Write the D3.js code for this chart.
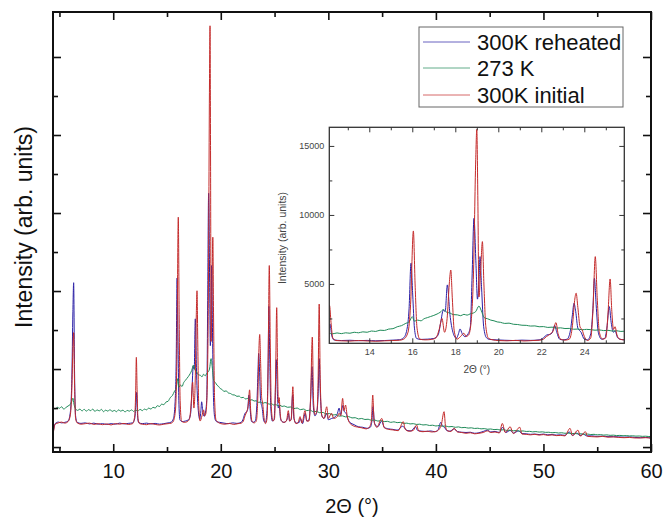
<!DOCTYPE html>
<html>
<head>
<meta charset="utf-8">
<script src="https://cdn.jsdelivr.net/npm/d3@7"></script>
<style>
  body { margin: 0; background: #fff; }
  text { font-family: "Liberation Sans", Arial, sans-serif; }
</style>
</head>
<body>
<div id="chart"></div>
<script>
// Series: [2theta, intensity]
var reheated300K = [
  [4.4,500],[4.6,900],[4.9,960],[5.2,930],[5.5,950],[5.8,1000],[6.0,1300],[6.15,2600],[6.25,5200],[6.32,6320],
  [6.4,3000],[6.5,1200],[6.65,950],[7.0,910],[7.4,930],[7.8,890],[8.2,920],[8.6,880],[9.0,900],[9.4,870],
  [9.8,900],[10.2,880],[10.6,920],[11.0,890],[11.4,910],[11.8,930],[12.0,1100],[12.1,1600],[12.17,2100],[12.25,1300],
  [12.35,950],[12.7,900],[13.1,920],[13.5,890],[13.9,910],[14.3,880],[14.7,900],[15.1,930],[15.4,960],[15.6,1100],
  [15.75,1700],[15.85,3200],[15.94,6500],[16.02,4200],[16.1,1800],[16.2,1050],[16.4,980],[16.7,1000],[17.0,1050],[17.2,1300],
  [17.32,2200],[17.44,3100],[17.53,3000],[17.63,4930],[17.75,2800],[17.89,1500],[18.05,1065],[18.15,1400],[18.22,1740],[18.32,1400],
  [18.45,1180],[18.6,1400],[18.7,1900],[18.78,5500],[18.87,9760],[18.96,6500],[19.03,3900],[19.1,5200],[19.15,6980],[19.22,4800],
  [19.32,1900],[19.45,1100],[19.6,980],[19.9,950],[20.3,920],[20.7,900],[21.1,930],[21.5,910],[21.9,950],[22.1,1100],
  [22.25,1300],[22.4,1350],[22.5,1450],[22.62,2000],[22.72,1500],[22.85,1000],[23.0,950],[23.2,1000],[23.35,1600],[23.45,2800],
  [23.52,3600],[23.6,3000],[23.7,1800],[23.85,1500],[24.0,1000],[24.15,950],[24.3,1400],[24.4,3200],[24.47,5410],[24.55,3500],
  [24.65,1500],[24.8,1000],[24.95,1050],[25.05,1800],[25.16,3360],[25.25,2200],[25.35,1500],[25.43,1600],[25.55,1100],[25.7,980],
  [25.9,950],[26.2,1100],[26.3,1300],[26.4,1000],[26.55,1100],[26.68,2010],[26.8,1100],[27.0,920],[27.3,950],[27.4,1100],
  [27.6,900],[27.85,1300],[28.0,1000],[28.2,1050],[28.35,1800],[28.48,3090],[28.6,1600],[28.75,1200],[28.9,1300],[29.05,2000],
  [29.15,3400],[29.25,2100],[29.4,1200],[29.6,1100],[29.85,1300],[30.0,1050],[30.3,1100],[30.6,1150],[30.85,1300],[31.0,1500],
  [31.15,1250],[31.35,1600],[31.5,1350],[31.65,1300],[31.8,1100],[32.0,950],[32.4,860],[32.8,780],[33.2,760],[33.6,720],
  [33.9,760],[34.05,1000],[34.15,1550],[34.3,900],[34.6,780],[34.95,1000],[35.2,760],[35.6,700],[36.0,680],[36.4,650],
  [36.9,800],[37.05,760],[37.3,640],[37.7,620],[38.1,780],[38.3,640],[38.7,610],[39.1,600],[39.5,620],[39.9,590],
  [40.2,660],[40.45,950],[40.6,820],[40.8,760],[41.0,640],[41.3,610],[41.7,700],[42.0,600],[42.4,570],[42.8,560],
  [43.2,570],[43.6,530],[44.0,550],[44.4,600],[44.8,650],[45.1,580],[45.5,600],[45.9,560],[46.2,760],[46.5,560],
  [46.9,640],[47.2,540],[47.7,620],[48.0,520],[48.4,510],[48.8,490],[49.2,500],[49.6,480],[50.0,500],[50.4,470],
  [50.8,480],[51.2,460],[51.6,470],[52.0,450],[52.4,580],[52.7,450],[53.1,540],[53.4,440],[53.7,500],[54.0,430],
  [54.5,430],[55.0,410],[55.5,420],[56.0,400],[56.5,400],[57.0,390],[57.5,380],[58.0,390],[58.5,370],[59.0,360],
  [59.5,370],[60.0,350]
];

var k273 = [
  [4.4,1540],[4.6,1470],[4.8,1530],[5.0,1490],[5.2,1550],[5.4,1460],[5.6,1520],[5.8,1580],[6.0,1640],[6.15,1760],
  [6.25,1880],[6.35,1650],[6.5,1470],[6.7,1410],[6.9,1460],[7.1,1390],[7.3,1450],[7.5,1380],[7.7,1440],[7.9,1400],
  [8.1,1460],[8.3,1370],[8.5,1430],[8.7,1390],[8.9,1450],[9.1,1360],[9.3,1420],[9.5,1380],[9.7,1440],[9.9,1370],
  [10.1,1410],[10.3,1360],[10.5,1430],[10.7,1380],[10.9,1420],[11.1,1350],[11.3,1410],[11.5,1380],[11.7,1430],[11.9,1370],
  [12.1,1420],[12.3,1390],[12.5,1450],[12.7,1400],[12.9,1460],[13.1,1430],[13.3,1500],[13.5,1460],[13.7,1530],[13.9,1500],
  [14.1,1590],[14.3,1560],[14.5,1650],[14.7,1630],[14.9,1730],[15.1,1760],[15.3,1900],[15.5,1980],[15.7,2150],[15.85,2250],
  [16.0,2630],[16.1,2300],[16.25,2380],[16.4,2330],[16.55,2480],[16.7,2560],[16.85,2640],[17.0,2720],[17.15,2820],[17.3,2950],
  [17.45,3150],[17.6,2950],[17.75,2900],[17.9,2780],[18.1,2760],[18.25,2700],[18.4,2800],[18.55,2740],[18.7,2840],[18.85,2900],
  [18.95,3000],[19.1,3400],[19.2,3100],[19.35,2550],[19.5,2480],[19.65,2380],[19.8,2330],[19.95,2250],[20.1,2220],[20.3,2140],
  [20.5,2160],[20.7,2080],[20.9,2060],[21.1,2010],[21.3,2000],[21.5,1950],[21.7,1960],[21.9,1900],[22.1,1910],[22.3,1850],
  [22.5,1870],[22.7,1800],[22.9,1820],[23.1,1770],[23.3,1780],[23.5,1720],[23.7,1730],[23.9,1680],[24.1,1710],[24.3,1690],
  [24.5,1650],[24.7,1670],[24.9,1620],[25.1,1640],[25.3,1590],[25.5,1610],[25.7,1560],[25.9,1580],[26.2,1530],[26.5,1540],
  [26.8,1480],[27.1,1500],[27.4,1440],[27.7,1460],[28.0,1400],[28.3,1420],[28.6,1360],[28.9,1370],[29.2,1320],[29.5,1330],
  [29.8,1270],[30.1,1290],[30.4,1230],[30.7,1250],[31.0,1190],[31.3,1200],[31.6,1160],[31.9,1170],[32.2,1120],[32.5,1130],
  [32.8,1080],[33.1,1100],[33.4,1060],[33.7,1070],[34.0,1030],[34.3,1040],[34.6,1000],[34.9,1010],[35.2,980],[35.5,990],
  [35.8,950],[36.1,970],[36.4,940],[36.7,950],[37.0,910],[37.3,920],[37.6,890],[37.9,900],[38.2,870],[38.5,880],
  [38.8,850],[39.1,860],[39.4,830],[39.7,840],[40.0,810],[40.3,830],[40.6,800],[40.9,810],[41.2,780],[41.5,790],
  [41.8,760],[42.1,775],[42.4,745],[42.7,755],[43.0,730],[43.3,740],[43.6,715],[43.9,725],[44.2,700],[44.5,710],
  [44.8,685],[45.1,695],[45.4,670],[45.7,680],[46.0,655],[46.3,665],[46.6,640],[46.9,650],[47.2,625],[47.5,635],
  [47.8,610],[48.1,620],[48.4,600],[48.7,605],[49.0,585],[49.3,595],[49.6,575],[49.9,585],[50.2,565],[50.5,570],
  [50.8,550],[51.1,560],[51.4,540],[51.7,550],[52.0,530],[52.3,535],[52.6,515],[52.9,525],[53.2,505],[53.5,510],
  [53.8,495],[54.1,500],[54.4,480],[54.7,490],[55.0,470],[55.3,478],[55.6,460],[55.9,468],[56.2,450],[56.5,458],
  [56.8,442],[57.1,448],[57.4,435],[57.7,440],[58.0,428],[58.3,432],[58.6,420],[58.9,425],[59.2,412],[59.5,418],
  [59.8,405],[60.0,408]
];

var initial300K = [
  [4.4,450],[4.6,880],[4.9,930],[5.2,960],[5.5,920],[5.8,980],[6.0,1200],[6.15,2200],[6.25,3800],[6.32,4400],
  [6.4,2500],[6.5,1100],[6.65,930],[7.0,880],[7.4,900],[7.8,920],[8.2,870],[8.6,900],[9.0,860],[9.4,890],
  [9.8,850],[10.2,900],[10.6,880],[11.0,910],[11.4,870],[11.8,900],[12.0,1200],[12.08,2000],[12.15,3450],[12.22,2200],
  [12.3,1100],[12.45,900],[12.7,880],[13.1,860],[13.5,900],[13.9,870],[14.3,850],[14.7,880],[15.1,900],[15.4,920],
  [15.6,1000],[15.8,1500],[15.92,3500],[16.05,8840],[16.13,5000],[16.22,1800],[16.35,1000],[16.6,950],[16.9,980],[17.1,1100],
  [17.25,1700],[17.38,2500],[17.5,1500],[17.62,2500],[17.72,5000],[17.79,6010],[17.86,4000],[17.95,1600],[18.08,1000],[18.25,1200],
  [18.4,1430],[18.5,1200],[18.62,1300],[18.75,2500],[18.85,6000],[18.95,14000],[19.0,16200],[19.05,11000],[19.1,4060],[19.18,6000],
  [19.26,8070],[19.33,5000],[19.42,1900],[19.55,1050],[19.75,950],[20.0,900],[20.4,880],[20.8,910],[21.2,870],[21.6,900],
  [21.9,920],[22.1,1000],[22.25,1200],[22.4,1350],[22.55,1600],[22.68,2200],[22.78,1400],[22.9,1000],[23.1,930],[23.3,1000],
  [23.45,2000],[23.55,3800],[23.62,4330],[23.7,3300],[23.8,1900],[23.9,1670],[24.0,1200],[24.15,900],[24.3,1100],[24.4,3000],
  [24.51,6980],[24.6,4000],[24.7,1500],[24.85,1000],[25.0,1100],[25.1,2800],[25.2,5360],[25.28,3000],[25.36,1700],[25.43,1900],
  [25.52,1300],[25.65,1000],[25.85,950],[26.1,1000],[26.28,1400],[26.4,1000],[26.55,1050],[26.7,2320],[26.82,1100],[27.0,900],
  [27.2,950],[27.37,1170],[27.55,920],[27.83,1400],[28.0,1000],[28.2,1000],[28.35,1900],[28.51,4230],[28.62,1800],[28.75,1250],
  [28.95,1400],[29.05,2600],[29.15,5500],[29.25,2500],[29.4,1200],[29.6,1100],[29.85,1550],[30.0,1100],[30.3,1300],[30.5,1100],
  [30.84,1170],[31.0,1300],[31.15,1200],[31.33,1870],[31.45,1400],[31.6,1615],[31.75,1200],[31.95,950],[32.3,820],[32.7,770],
  [33.1,740],[33.5,700],[33.8,760],[34.0,1000],[34.13,2000],[34.25,1000],[34.5,760],[34.97,1100],[35.2,740],[35.6,680],
  [36.0,660],[36.5,630],[36.97,975],[37.15,680],[37.5,610],[37.9,640],[38.2,850],[38.4,620],[38.8,590],[39.2,610],
  [39.6,580],[40.0,600],[40.3,680],[40.5,850],[40.76,1360],[40.9,780],[41.1,620],[41.4,600],[41.7,720],[42.0,580],
  [42.4,560],[42.8,530],[43.2,550],[43.6,510],[44.0,530],[44.4,560],[44.8,620],[45.1,560],[45.5,580],[45.9,540],
  [46.18,910],[46.45,560],[46.9,780],[47.2,520],[47.8,760],[48.0,500],[48.4,490],[48.8,470],[49.2,490],[49.6,460],
  [50.0,480],[50.4,450],[50.8,470],[51.2,440],[51.6,450],[52.0,430],[52.47,720],[52.7,440],[53.2,650],[53.45,420],
  [53.9,590],[54.1,410],[54.5,400],[55.0,390],[55.5,410],[56.0,380],[56.5,390],[57.0,370],[57.5,360],[58.0,370],
  [58.5,350],[59.0,350],[59.5,360],[60.0,340]
];

var seriesNames = ["300K reheated", "273 K", "300K initial"];
var seriesColors = ["#2a1fa6", "#1f8a58", "#c42a2a"];

var mainXMajor = [10, 20, 30, 40, 50, 60];
var mainXMinor = [5, 15, 25, 35, 45, 55];
var mainYMajor = [0, 3000, 6000, 9000, 12000, 15000];
var mainYMinor = [1500, 4500, 7500, 10500, 13500];
var insetXMajor = [14, 16, 18, 20, 22, 24];
var insetXMinor = [13, 15, 17, 19, 21, 23, 25];
var insetYMajor = [5000, 10000, 15000];
var insetYMinor = [2500, 7500, 12500];

var svgWidth = 665;
var svgHeight = 521;
var main = { left: 53, right: 651, top: 12, bottom: 452 };
var inset = { left: 329.3, right: 624.3, top: 127.3, bottom: 343.3 };

var svg = d3.select("#chart").append("svg")
  .attr("width", svgWidth)
  .attr("height", svgHeight);

var defs = svg.append("defs");
defs.append("clipPath").attr("id", "clipMain").append("rect")
  .attr("x", main.left).attr("y", main.top)
  .attr("width", main.right - main.left).attr("height", main.bottom - main.top);
defs.append("clipPath").attr("id", "clipInset").append("rect")
  .attr("x", inset.left).attr("y", inset.top)
  .attr("width", inset.right - inset.left).attr("height", inset.bottom - inset.top);

// scales
var x = d3.scaleLinear().domain([4.4, 60]).range([main.left, main.right]);
var y = d3.scaleLinear().domain([-190, 16730]).range([main.bottom, main.top]);
var xi = d3.scaleLinear().domain([12.14, 25.86]).range([inset.left, inset.right]);
var yi = d3.scaleLinear().domain([700, 16350]).range([inset.bottom, inset.top]);

var allSeries = [reheated300K, k273, initial300K];

function drawLines(g, xs, ys, clipId) {
  var line = d3.line()
    .x(d => xs(d[0]))
    .y(d => ys(d[1]))
    .curve(d3.curveMonotoneX);
  var lg = g.append("g").attr("clip-path", "url(#" + clipId + ")");
  allSeries.forEach(function(s, i) {
    lg.append("path")
      .datum(s)
      .attr("fill", "none")
      .attr("stroke", seriesColors[i])
      .attr("stroke-width", 1)
      .attr("stroke-linejoin", "round")
      .attr("d", line);
  });
}

function tickAxis(g, axis, tr) {
  var a = g.append("g").attr("transform", tr).call(axis);
  a.select(".domain").remove();
  return a;
}

// ---- main plot ----
var mainG = svg.append("g");
drawLines(mainG, x, y, "clipMain");

var fmtNone = () => "";
var bx = tickAxis(mainG, d3.axisBottom(x).tickValues(mainXMajor).tickSize(-8).tickPadding(12), `translate(0,${main.bottom})`);
tickAxis(mainG, d3.axisBottom(x).tickValues(mainXMinor).tickSize(-5).tickFormat(fmtNone), `translate(0,${main.bottom})`);
tickAxis(mainG, d3.axisTop(x).tickValues(mainXMajor).tickSize(-8).tickFormat(fmtNone), `translate(0,${main.top})`);
tickAxis(mainG, d3.axisTop(x).tickValues(mainXMinor).tickSize(-5).tickFormat(fmtNone), `translate(0,${main.top})`);
tickAxis(mainG, d3.axisLeft(y).tickValues(mainYMajor).tickSize(-8).tickFormat(fmtNone), `translate(${main.left},0)`);
tickAxis(mainG, d3.axisLeft(y).tickValues(mainYMinor).tickSize(-5).tickFormat(fmtNone), `translate(${main.left},0)`);
tickAxis(mainG, d3.axisRight(y).tickValues(mainYMajor).tickSize(-8).tickFormat(fmtNone), `translate(${main.right},0)`);
tickAxis(mainG, d3.axisRight(y).tickValues(mainYMinor).tickSize(-5).tickFormat(fmtNone), `translate(${main.right},0)`);
mainG.selectAll(".tick line").attr("stroke", "#111").attr("stroke-width", 1.6);
bx.selectAll("text").attr("font-size", 20).attr("fill", "#111")
  .attr("font-family", "Liberation Sans, Arial, sans-serif");

mainG.append("rect")
  .attr("x", main.left).attr("y", main.top)
  .attr("width", main.right - main.left).attr("height", main.bottom - main.top)
  .attr("fill", "none").attr("stroke", "#111").attr("stroke-width", 2);

mainG.append("text")
  .attr("x", (main.left + main.right) / 2).attr("y", 513)
  .attr("text-anchor", "middle").attr("font-size", 20).attr("fill", "#111")
  .text("2Θ (°)");

mainG.append("text")
  .attr("transform", `translate(32, 227)rotate(-90)`)
  .attr("text-anchor", "middle").attr("font-size", 23).attr("fill", "#111")
  .text("Intensity (arb. units)");

// ---- legend ----
var legend = svg.append("g");
legend.append("rect")
  .attr("x", 419).attr("y", 27).attr("width", 204).attr("height", 80)
  .attr("fill", "#fff").attr("stroke", "#666").attr("stroke-width", 1);
var rowsY = [42, 68, 95];
seriesNames.forEach(function(name, i) {
  legend.append("line")
    .attr("x1", 423).attr("x2", 470).attr("y1", rowsY[i]).attr("y2", rowsY[i])
    .attr("stroke", seriesColors[i]).attr("stroke-width", 1).attr("stroke-opacity", 0.7);
  legend.append("text")
    .attr("x", 477).attr("y", rowsY[i]).attr("dy", "0.36em")
    .attr("font-size", 22).attr("fill", "#111")
    .text(name);
});

// ---- inset ----
var insetG = svg.append("g");
insetG.append("rect")
  .attr("x", inset.left).attr("y", inset.top)
  .attr("width", inset.right - inset.left).attr("height", inset.bottom - inset.top)
  .attr("fill", "#fff");
drawLines(insetG, xi, yi, "clipInset");

tickAxis(insetG, d3.axisBottom(xi).tickValues(insetXMajor).tickSize(-5).tickPadding(5), `translate(0,${inset.bottom})`);
tickAxis(insetG, d3.axisBottom(xi).tickValues(insetXMinor).tickSize(-3).tickFormat(fmtNone), `translate(0,${inset.bottom})`);
tickAxis(insetG, d3.axisTop(xi).tickValues(insetXMajor).tickSize(-5).tickFormat(fmtNone), `translate(0,${inset.top})`);
tickAxis(insetG, d3.axisTop(xi).tickValues(insetXMinor).tickSize(-3).tickFormat(fmtNone), `translate(0,${inset.top})`);
tickAxis(insetG, d3.axisLeft(yi).tickValues(insetYMajor).tickSize(-5).tickPadding(5).tickFormat(d3.format("d")), `translate(${inset.left},0)`);
tickAxis(insetG, d3.axisLeft(yi).tickValues(insetYMinor).tickSize(-3).tickFormat(fmtNone), `translate(${inset.left},0)`);
tickAxis(insetG, d3.axisRight(yi).tickValues(insetYMajor).tickSize(-5).tickFormat(fmtNone), `translate(${inset.right},0)`);
tickAxis(insetG, d3.axisRight(yi).tickValues(insetYMinor).tickSize(-3).tickFormat(fmtNone), `translate(${inset.right},0)`);
insetG.selectAll(".tick line").attr("stroke", "#333").attr("stroke-width", 1);
insetG.selectAll(".tick text").attr("font-size", 9).attr("fill", "#444")
  .attr("font-family", "Liberation Sans, Arial, sans-serif");

insetG.append("rect")
  .attr("x", inset.left).attr("y", inset.top)
  .attr("width", inset.right - inset.left).attr("height", inset.bottom - inset.top)
  .attr("fill", "none").attr("stroke", "#333").attr("stroke-width", 1.3);

insetG.append("text")
  .attr("x", (inset.left + inset.right) / 2).attr("y", 373)
  .attr("text-anchor", "middle").attr("font-size", 10).attr("fill", "#444")
  .text("2Θ (°)");

insetG.append("text")
  .attr("transform", `translate(286, 238)rotate(-90)`)
  .attr("text-anchor", "middle").attr("font-size", 10.5).attr("fill", "#444")
  .text("Intensity (arb. units)");
</script>
</body>
</html>
